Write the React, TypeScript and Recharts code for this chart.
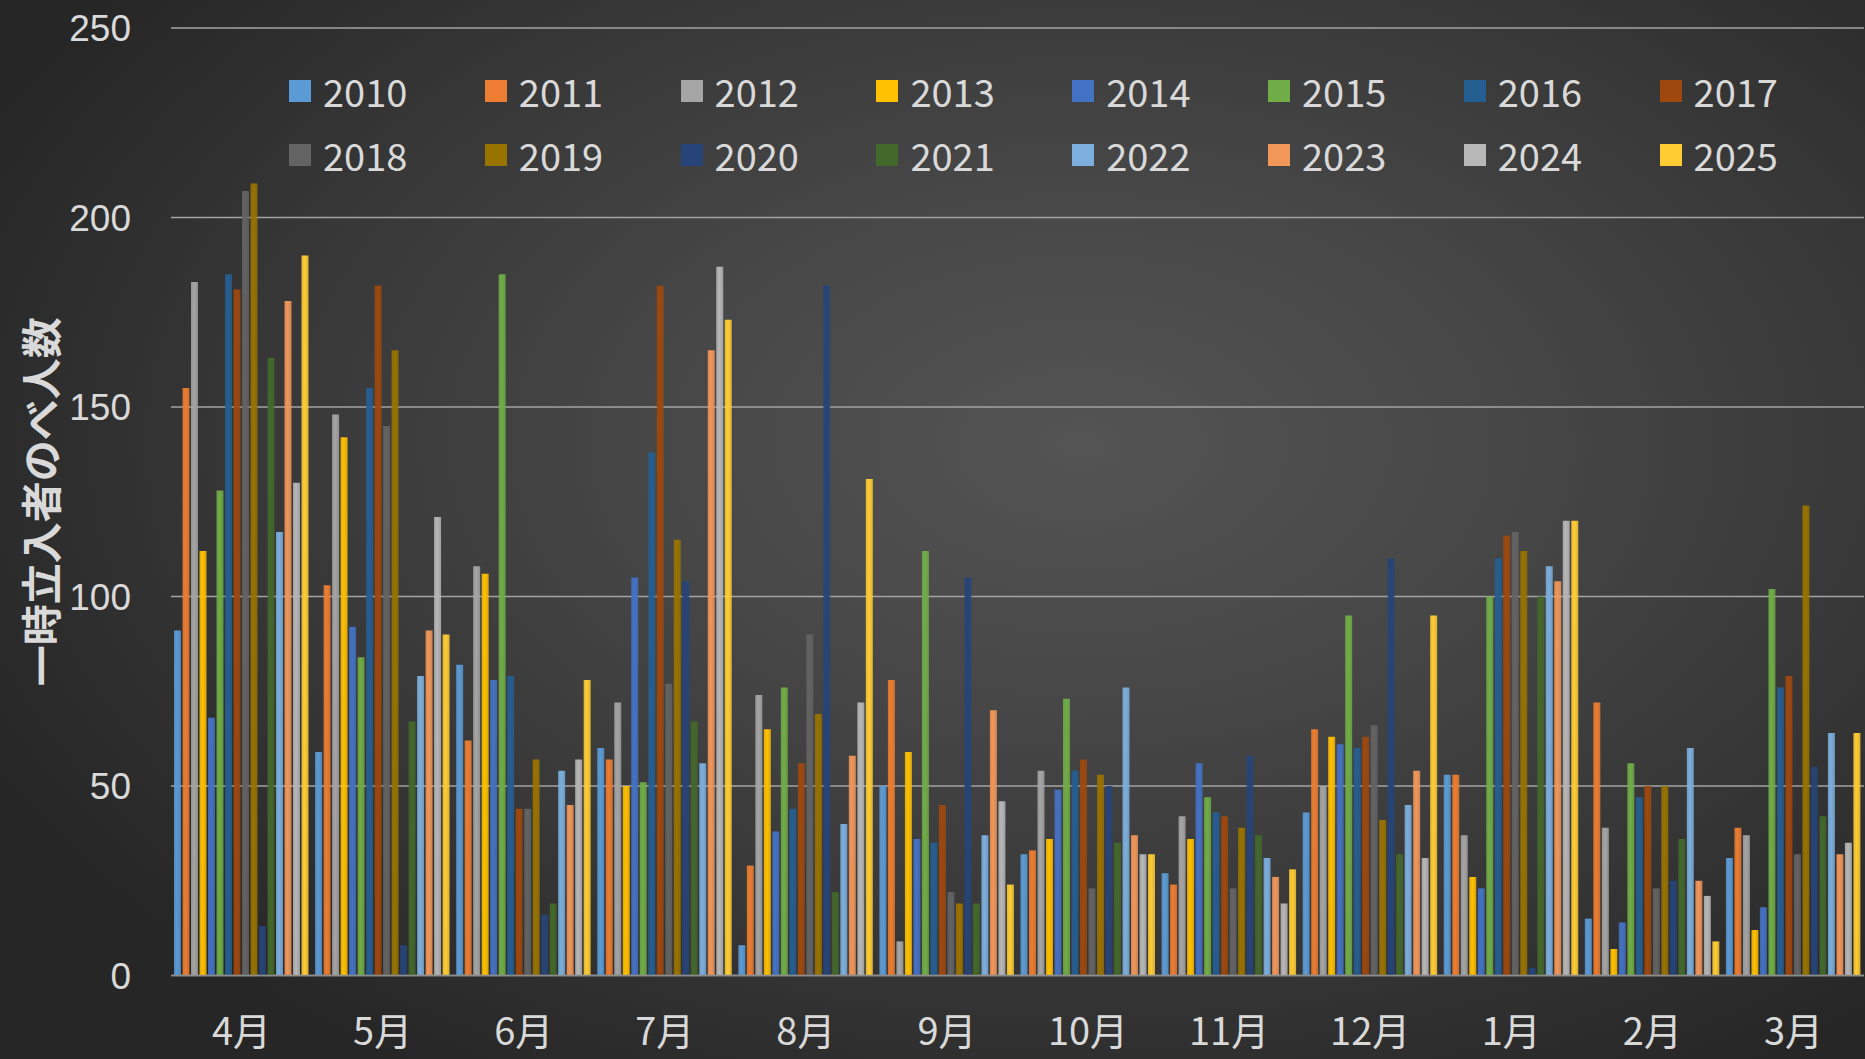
import React from 'react';
import { BarChart, Bar, XAxis, YAxis, CartesianGrid, Legend } from 'recharts';

const months = ['4月', '5月', '6月', '7月', '8月', '9月', '10月', '11月', '12月', '1月', '2月', '3月'];
const years = ['2010', '2011', '2012', '2013', '2014', '2015', '2016', '2017', '2018', '2019', '2020', '2021', '2022', '2023', '2024', '2025'];
const yTicks = [0, 50, 100, 150, 200, 250];

const y2010 = [91, 59, 82, 60, 8, 50, 32, 27, 43, 53, 15, 31];
const y2011 = [155, 103, 62, 57, 29, 78, 33, 24, 65, 53, 72, 39];
const y2012 = [183, 148, 108, 72, 74, 9, 54, 42, 50, 37, 39, 37];
const y2013 = [112, 142, 106, 50, 65, 59, 36, 36, 63, 26, 7, 12];
const y2014 = [68, 92, 78, 105, 38, 36, 49, 56, 61, 23, 14, 18];
const y2015 = [128, 84, 185, 51, 76, 112, 73, 47, 95, 100, 56, 102];
const y2016 = [185, 155, 79, 138, 44, 35, 54, 43, 60, 110, 47, 76];
const y2017 = [181, 182, 44, 182, 56, 45, 57, 42, 63, 116, 50, 79];
const y2018 = [207, 145, 44, 77, 90, 22, 23, 23, 66, 117, 23, 32];
const y2019 = [209, 165, 57, 115, 69, 19, 53, 39, 41, 112, 50, 124];
const y2020 = [13, 8, 16, 104, 182, 105, 50, 58, 110, 2, 25, 55];
const y2021 = [163, 67, 19, 67, 22, 19, 35, 37, 32, 100, 36, 42];
const y2022 = [117, 79, 54, 56, 40, 37, 76, 31, 45, 108, 60, 64];
const y2023 = [178, 91, 45, 165, 58, 70, 37, 26, 54, 104, 25, 32];
const y2024 = [130, 121, 57, 187, 72, 46, 32, 19, 31, 120, 21, 35];
const y2025 = [190, 90, 78, 173, 131, 24, 32, 28, 95, 120, 9, 64];

const seriesValues = [y2010, y2011, y2012, y2013, y2014, y2015, y2016, y2017, y2018, y2019, y2020, y2021, y2022, y2023, y2024, y2025];

const colors = [
  '#5B9BD5', '#ED7D31', '#A5A5A5', '#FFC000', '#4472C4', '#70AD47', '#255E91', '#9E480E',
  '#636363', '#997300', '#264478', '#43682B', '#7CAFDD', '#F1975A', '#B7B7B7', '#FFCD33',
];

const data = months.map((m, i) => {
  const row: Record<string, string | number> = { month: m };
  years.forEach((y, k) => {
    row[y] = seriesValues[k][i];
  });
  return row;
});

const FONT = '"Noto Sans CJK JP", "Noto Sans", sans-serif';
const NUM_FONT = '"Liberation Sans", "DejaVu Sans", sans-serif';
const TEXT = '#d9d9d9';

function LegendContent(props: any) {
  const payload = props.payload || [];
  return (
    <div style={{ display: 'grid', gridTemplateColumns: 'repeat(8, 195.8px)', gridAutoRows: '64px' }}>
      {payload.map((p: any) => {
        const idx = years.indexOf(String(p.dataKey));
        return (
          <div key={String(p.dataKey)} style={{ display: 'flex', alignItems: 'center' }}>
            <span style={{ width: 22, height: 22, background: colors[idx], marginRight: 12, display: 'inline-block' }} />
            <span style={{ fontSize: 38, color: TEXT, fontFamily: FONT, lineHeight: 1 }}>{p.value}</span>
          </div>
        );
      })}
    </div>
  );
}

function YTitle(props: any) {
  const vb = props.viewBox || { x: 0, y: 0, width: 0, height: 0 };
  const cx = 39;
  const cy = vb.y + vb.height / 2;
  return (
    <text
      x={cx}
      y={cy}
      transform={`rotate(-90, ${cx}, ${cy})`}
      textAnchor="middle"
      dominantBaseline="central"
      fill={TEXT}
      fontFamily={FONT}
      fontWeight={700}
      fontSize={41}
    >
      一時立入者のべ人数
    </text>
  );
}

export default function App() {
  return (
    <div
      style={{
        position: 'absolute',
        left: 0,
        top: 0,
        width: 1865,
        height: 1059,
        overflow: 'hidden',
        background: 'radial-gradient(ellipse 65% 70% at 58% 42%, #545454 0%, #474747 35%, #363636 70%, #262626 100%)',
      }}
    >
      <BarChart
        width={1865}
        height={1059}
        data={data}
        margin={{ top: 28, right: 1, left: 0, bottom: 0 }}
        barCategoryGap={3}
        barGap={1.5}
      >
        <defs>
          {colors.map((c, i) => (
            <linearGradient key={i} id={`bg${i}`} x1="0" y1="0" x2="1" y2="0">
              <stop offset="0%" stopColor={c} stopOpacity={0.85} />
              <stop offset="45%" stopColor={c} stopOpacity={1} />
              <stop offset="100%" stopColor={c} stopOpacity={0.8} />
            </linearGradient>
          ))}
        </defs>
        <CartesianGrid vertical={false} stroke="#a3a3a3" strokeWidth={1.5} />
        <XAxis
          dataKey="month"
          height={83.5}
          tickSize={0}
          tickMargin={43}
          axisLine={{ stroke: '#8c8c8c', strokeWidth: 1.5 }}
          tick={{ fill: TEXT, fontSize: 38, fontFamily: FONT }}
          interval={0}
        />
        <YAxis
          width={171}
          domain={[0, 250]}
          ticks={yTicks}
          tickSize={0}
          tickMargin={40}
          axisLine={false}
          tick={{ fill: TEXT, fontSize: 37, fontFamily: NUM_FONT }}
          label={{ content: YTitle }}
        />
        <Legend
          layout="horizontal"
          verticalAlign="middle"
          align="center"
          wrapperStyle={{ top: 58.5, left: 289, width: 1570, height: 128 }}
          content={LegendContent}
        />
        {years.map((y, i) => (
          <Bar key={y} dataKey={y} name={y} fill={`url(#bg${i})`} isAnimationActive={false} />
        ))}
      </BarChart>
    </div>
  );
}
